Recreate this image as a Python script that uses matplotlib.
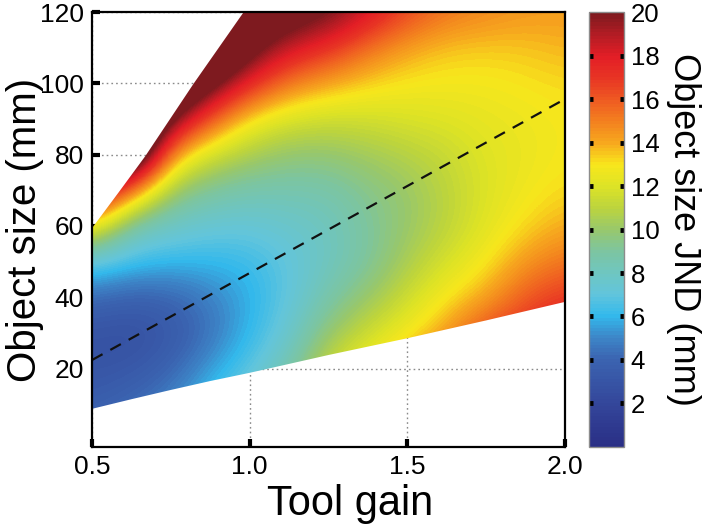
import numpy as np
import matplotlib
matplotlib.use("Agg")
import matplotlib.pyplot as plt
from matplotlib.colors import LinearSegmentedColormap
from matplotlib.patches import Polygon


# ============================================================
# Data
# ============================================================

GAINS = [0.5, 0.625, 0.75, 0.875, 1.0, 1.125, 1.25,
         1.375, 1.5, 1.625, 1.75, 1.875, 2.0]
SIZES = [0, 10, 20, 30, 40, 50, 60, 70, 80, 90, 100, 110, 120]

# JND (mm): one row per object size (0 .. 120), one column per tool gain
JND = [
    [4.5, 5.0, 6.0, 7.5, 9.0, 10.5, 13.0, 15.0, 17.0, 19.0, 21.0, 22.0, 23.0],
    [3.6, 4.2, 5.0, 6.5, 8.0, 9.5, 12.0, 14.0, 16.0, 18.0, 19.5, 20.5, 21.5],
    [3.0, 3.2, 4.0, 5.5, 6.8, 8.5, 11.5, 13.0, 14.5, 16.0, 17.8, 18.8, 19.5],
    [2.8, 2.6, 3.2, 4.5, 6.0, 7.5, 10.0, 11.5, 12.8, 14.2, 16.5, 17.5, 18.3],
    [4.3, 3.8, 4.0, 4.8, 5.8, 7.0, 8.7, 10.0, 11.5, 13.0, 14.0, 16.0, 17.0],
    [7.0, 6.3, 6.0, 6.0, 6.2, 7.0, 8.0, 9.0, 10.5, 11.8, 12.9, 14.4, 15.3],
    [13.0, 8.5, 7.8, 7.3, 7.2, 7.6, 8.0, 9.0, 10.0, 11.0, 12.2, 13.2, 14.0],
    [20.0, 15.0, 10.0, 9.0, 8.5, 8.5, 8.6, 9.4, 10.0, 11.0, 12.0, 12.7, 13.2],
    [25.0, 26.0, 14.0, 11.5, 10.5, 9.8, 9.8, 10.3, 10.8, 11.3, 12.1, 12.5, 12.9],
    [28.0, 28.0, 20.5, 16.0, 12.8, 11.8, 11.5, 11.6, 11.9, 12.1, 12.4, 12.6, 12.9],
    [28.0, 28.0, 25.0, 21.0, 17.5, 15.0, 14.0, 13.3, 12.9, 12.8, 12.8, 13.0, 13.2],
    [28.0, 28.0, 28.0, 25.0, 21.0, 18.5, 17.2, 15.3, 14.1, 13.5, 13.4, 13.5, 13.8],
    [28.0, 28.0, 28.0, 28.0, 23.0, 21.5, 20.5, 18.5, 16.5, 15.3, 14.8, 14.4, 14.3],
]

# edges of the tested region
LOWER_GAIN = [0.5, 0.625, 0.75, 0.875, 1.0, 1.25, 1.5, 1.75, 2.0]
LOWER_SIZE = [8.7, 11.4, 14.0, 16.5, 18.8, 23.8, 28.5, 33.5, 38.7]
UPPER_GAIN = [0.5, 0.585, 0.669, 0.822, 0.981]
UPPER_SIZE = [59.4, 69.5, 79.6, 99.9, 120.0]

# dashed reference line
LINE_GAIN = [0.5, 2.0]
LINE_SIZE = [22.4, 95.6]

X_TICKS = [0.5, 1.0, 1.5, 2.0]
X_TICK_LABELS = ["0.5", "1.0", "1.5", "2.0"]
Y_TICKS = [20, 40, 60, 80, 100, 120]
CB_TICKS = [2, 4, 6, 8, 10, 12, 14, 16, 18, 20]

# colour bar stops (JND value, colour)
CMAP_STOPS = [
    (0, "#2a2f86"), (2, "#34479b"), (4, "#3b64b1"), (5, "#3d86c8"),
    (6, "#33b9ec"), (7, "#62c5dc"), (8, "#6fc6c0"), (9, "#7dc5a0"),
    (10, "#98c86c"), (11, "#bcd43e"), (12, "#dde326"), (13, "#f8e71c"),
    (14, "#f7a91e"), (15, "#f3801f"), (16, "#ef5a22"), (17, "#e83524"),
    (18, "#e31e26"), (19, "#b41c24"), (20, "#7e1a1f"),
]


def main() -> None:
    plt.rcParams["font.family"] = ["Liberation Sans", "DejaVu Sans"]

    cmap = LinearSegmentedColormap.from_list(
        "jnd", [(v / 20.0, c) for v, c in CMAP_STOPS], N=128
    )
    cmap.set_over(CMAP_STOPS[-1][1])
    cmap.set_under(CMAP_STOPS[0][1])

    fig = plt.figure(figsize=(7.08, 5.24), dpi=100)
    ax = fig.add_axes([0.130, 0.147, 0.668, 0.830])
    cax = fig.add_axes([0.832, 0.147, 0.049, 0.830])

    gains = np.asarray(GAINS)
    sizes = np.asarray(SIZES)
    dg = (gains[1] - gains[0]) / 2
    ds = (sizes[1] - sizes[0]) / 2

    im = ax.imshow(
        np.asarray(JND),
        origin="lower",
        extent=[gains[0] - dg, gains[-1] + dg, sizes[0] - ds, sizes[-1] + ds],
        aspect="auto",
        interpolation="bicubic",
        cmap=cmap,
        vmin=0,
        vmax=20,
        zorder=1,
    )

    # clip the field to the tested region
    verts = list(zip(LOWER_GAIN, LOWER_SIZE))
    verts.append((gains[-1] + dg, LOWER_SIZE[-1]))
    verts.append((gains[-1] + dg, sizes[-1] + ds))
    verts.append((UPPER_GAIN[-1], sizes[-1] + ds))
    verts += list(zip(UPPER_GAIN, UPPER_SIZE))[::-1]
    clip = Polygon(verts, closed=True, transform=ax.transData)
    im.set_clip_path(clip)

    ax.plot(
        LINE_GAIN, LINE_SIZE,
        color="#111111", linewidth=1.6, dashes=(5.4, 4.0), zorder=3,
    )

    ax.set_xlim(0.5, 2.0)
    ax.set_ylim(-2, 120)
    ax.set_xticks(X_TICKS)
    ax.set_xticklabels(X_TICK_LABELS)
    ax.set_yticks(Y_TICKS)

    ax.set_axisbelow(True)
    ax.grid(color="#8a8a8a", linestyle=(0, (1.2, 2.2)), linewidth=1.0)

    ax.tick_params(
        direction="in", length=6, width=3, labelsize=19,
        top=False, right=False,
    )
    ax.tick_params(axis="x", pad=6)
    ax.tick_params(axis="y", pad=6)
    for side in ax.spines.values():
        side.set_linewidth(1.6)
        side.set_zorder(4)

    ax.set_xlabel("Tool gain", fontsize=30)
    ax.xaxis.set_label_coords(0.545, -0.085)
    ax.set_ylabel("Object size (mm)", fontsize=29)
    ax.yaxis.set_label_coords(-0.102, 0.5)

    cb = fig.colorbar(im, cax=cax, ticks=CB_TICKS)
    cb.outline.set_edgecolor("#8c8c8c")
    cb.outline.set_linewidth(1.0)
    cax.tick_params(
        direction="in", length=3, width=3.5, labelsize=18.5, pad=5,
        left=True, right=True, color="black",
    )
    last = cax.yaxis.get_major_ticks()[-1]
    last.tick1line.set_visible(False)
    last.tick2line.set_visible(False)
    cb.set_label("Object size JND (mm)", fontsize=26, rotation=270, labelpad=30)

    fig.savefig("out.png", dpi=100)
    plt.close(fig)


if __name__ == "__main__":
    main()
